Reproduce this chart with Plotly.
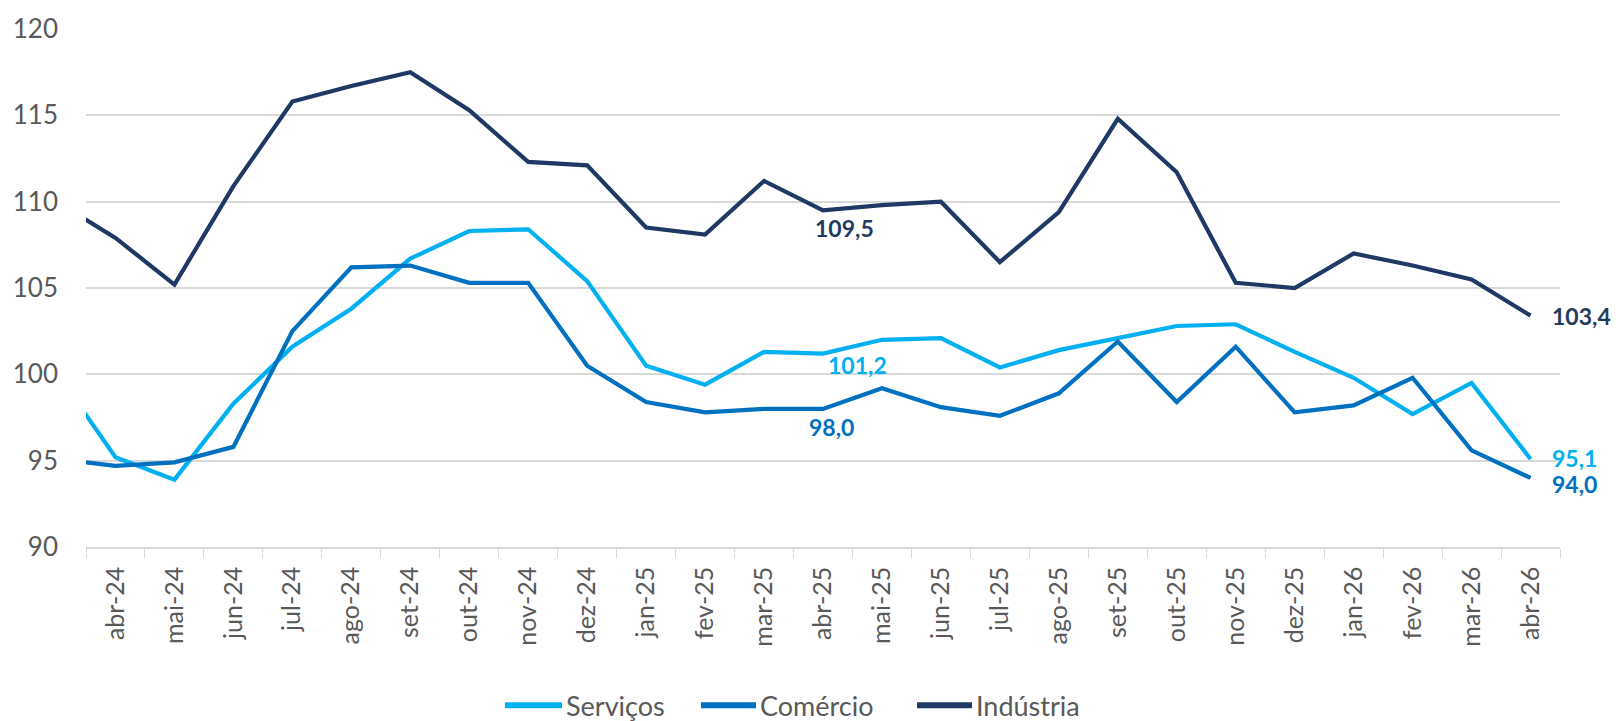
import plotly.graph_objects as go

# ---- data ----
months = ["mar-24", "abr-24", "mai-24", "jun-24", "jul-24", "ago-24", "set-24", "out-24",
          "nov-24", "dez-24", "jan-25", "fev-25", "mar-25", "abr-25", "mai-25", "jun-25",
          "jul-25", "ago-25", "set-25", "out-25", "nov-25", "dez-25", "jan-26", "fev-26",
          "mar-26", "abr-26"]
servicos = [100.1, 95.2, 93.9, 98.3, 101.6, 103.8, 106.7, 108.3, 108.4, 105.4, 100.5, 99.4,
            101.3, 101.2, 102.0, 102.1, 100.4, 101.4, 102.1, 102.8, 102.9, 101.3, 99.8, 97.7,
            99.5, 95.1]
comercio = [95.1, 94.7, 94.9, 95.8, 102.5, 106.2, 106.3, 105.3, 105.3, 100.5, 98.4, 97.8,
            98.0, 98.0, 99.2, 98.1, 97.6, 98.9, 101.9, 98.4, 101.6, 97.8, 98.2, 99.8,
            95.6, 94.0]
industria = [110.0, 107.9, 105.2, 110.9, 115.8, 116.7, 117.5, 115.3, 112.3, 112.1, 108.5, 108.1,
             111.2, 109.5, 109.8, 110.0, 106.5, 109.4, 114.8, 111.7, 105.3, 105.0, 107.0, 106.3,
             105.5, 103.4]
series_names = ["Serviços", "Comércio", "Indústria"]
colors = ["#00B0F0", "#0070C0", "#1F3864"]
label_colors = ["#00B0F0", "#0070C0", "#243A5E"]

def fmt(v):
    return f"{v:.1f}".replace(".", ",")

FONT = "Lato"
fig = go.Figure()
for name, vals, c in zip(series_names, [servicos, comercio, industria], colors):
    fig.add_trace(go.Scatter(x=months, y=vals, mode="lines", name=name,
                             line=dict(color=c, width=4.2), showlegend=False,
                             hoverinfo="skip"))

# data labels at abr-25 and at the last point
mid = months.index("abr-25")
mid_shifts = {0: (34, -11), 1: (8, -18), 2: (21, -18)}
end_shifts = {0: 1, 1: -6, 2: 0}
annotations = []
for i, vals in enumerate([servicos, comercio, industria]):
    dx, dy = mid_shifts[i]
    annotations.append(dict(x=months[mid], y=vals[mid], xref="x", yref="y",
                            text=f"<b>{fmt(vals[mid])}</b>", showarrow=False,
                            xshift=dx, yshift=dy,
                            font=dict(family=FONT, size=23, color=label_colors[i])))
    annotations.append(dict(x=months[-1], y=vals[-1], xref="x", yref="y",
                            text=f"<b>{fmt(vals[-1])}</b>", showarrow=False,
                            xanchor="left", xshift=19, yshift=end_shifts[i],
                            font=dict(family=FONT, size=23, color=label_colors[i])))

# manual legend (below the plot)
W, H = 1616, 721
L, R, T, B = 86, 56, 23, 174
pw, ph = W - L - R, H - T - B
def px(x):
    return (x - L) / pw
def py(y):
    return (H - B - y) / ph
legend_items = [(505, 562), (701, 756), (917, 972)]
shapes = []
for (x0, x1), name, c in zip(legend_items, series_names, colors):
    shapes.append(dict(type="line", xref="paper", yref="paper", x0=px(x0), x1=px(x1),
                       y0=py(707), y1=py(707), line=dict(color=c, width=6)))
    annotations.append(dict(x=px(x1 + 2), y=py(707), xref="paper", yref="paper",
                            text=name, showarrow=False, xanchor="left", yanchor="middle",
                            font=dict(family=FONT, size=27, color="#595959")))

fig.update_layout(
    width=W, height=H,
    margin=dict(l=L, r=R, t=T, b=B, pad=0),
    plot_bgcolor="white", paper_bgcolor="white",
    font=dict(family=FONT, color="#595959"),
    annotations=annotations, shapes=shapes,
    xaxis=dict(type="category", range=[0.5, len(months) - 0.5], tickson="boundaries",
               ticks="outside", ticklen=9, tickcolor="#D9D9D9", tickwidth=1.3,
               showline=True, linecolor="#D9D9D9", linewidth=1.5, showgrid=False,
               tickangle=-90, tickfont=dict(family=FONT, size=25, color="#595959"),
               ticklabelstandoff=8),
    yaxis=dict(range=[90, 120], dtick=5, showgrid=True, gridcolor="#D9D9D9", gridwidth=1.5,
               zeroline=False, showline=False, ticks="",
               tickfont=dict(family=FONT, size=26, color="#595959"),
               ticklabelstandoff=27),
)
fig.write_html("out.html", config={"displayModeBar": False},
               post_script="document.body.style.margin='0px';document.body.style.overflow='hidden';")
